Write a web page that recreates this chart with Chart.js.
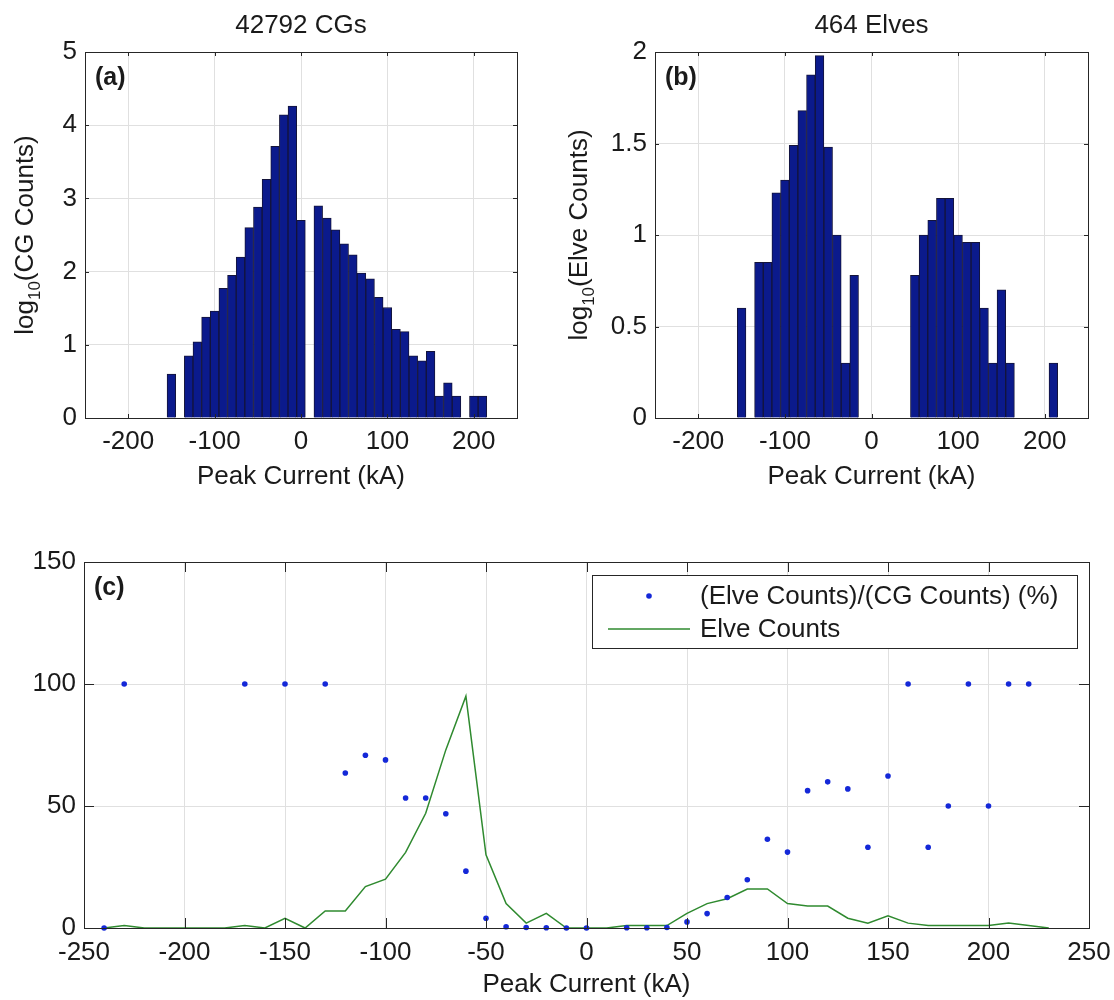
<!DOCTYPE html>
<html>
<head>
<meta charset="utf-8">
<script src="https://cdn.jsdelivr.net/npm/chart.js@4/dist/chart.umd.min.js"></script>
<style>
  body { margin: 0; background: #fff; }
  #wrap { position: relative; width: 1114px; height: 1000px; }
  canvas { position: absolute; }
</style>
</head>
<body>
<div id="wrap">
  <canvas id="chartA" width="545" height="500" style="left:0;top:0"></canvas>
  <canvas id="chartB" width="557" height="500" style="left:557px;top:0"></canvas>
  <canvas id="chartC" width="1114" height="500" style="left:0;top:500px"></canvas>
</div>
<script>
// histogram bin centres (kA), shared by panels (a) and (b)
const binCenters = [-150, -140, -130, -120, -110, -100, -90, -80, -70, -60, -50, -40, -30, -20, -10,
  0, 10, 20, 30, 40, 50, 60, 70, 80, 90, 100, 110, 120, 130, 140, 150, 160, 170, 180, 190, 200, 210];

// (a) log10(CG counts)
const cgLog = [0.60, null, 0.85, 1.04, 1.38, 1.46, 1.77, 1.95, 2.20, 2.60, 2.88, 3.26, 3.71, 4.14, 4.26,
  2.70, null, 2.90, 2.73, 2.57, 2.38, 2.23, 1.98, 1.90, 1.65, 1.51, 1.21, 1.18, 0.85, 0.78, 0.91, 0.30, 0.48, 0.30, null, 0.30, 0.30];

// (b) log10(Elve counts)
const elveLog = [0.60, null, 0.85, 0.85, 1.23, 1.30, 1.49, 1.68, 1.875, 1.98, 1.48, 1.00, 0.30, 0.78, null,
  null, null, null, null, null, 0.78, 1.00, 1.08, 1.20, 1.20, 1.00, 0.96, 0.96, 0.60, 0.30, 0.70, 0.30, null, null, null, null, 0.30];

// (c) ratio points (%)
const ratioX = [-240, -230, -170, -150, -130, -120, -110, -100, -90, -80, -70, -60, -50, -40, -30, -20, -10, 0,
  20, 30, 40, 50, 60, 70, 80, 90, 100, 110, 120, 130, 140, 150, 160, 170, 180, 190, 200, 210, 220];
const ratioY = [0, 100, 100, 100, 100, 63.5, 70.8, 68.9, 53.3, 53.3, 46.8, 23.3, 4.0, 0.5, 0.2, 0.1, 0, 0,
  0.1, 0.1, 0.2, 2.5, 5.9, 12.5, 19.8, 36.4, 31.1, 56.3, 59.9, 57, 33.1, 62.3, 100, 33.1, 50, 100, 50, 100, 100];

// (c) elve counts line
const countX = [-240, -230, -220, -210, -200, -190, -180, -170, -160, -150, -140, -130, -120, -110, -100, -90,
  -80, -70, -60, -50, -40, -30, -20, -10, 0, 10, 20, 30, 40, 50, 60, 70, 80, 90, 100, 110, 120, 130, 140, 150,
  160, 170, 180, 190, 200, 210, 220, 230];
const countY = [0, 1, 0, 0, 0, 0, 0, 1, 0, 4, 0, 7, 7, 17, 20, 31,
  47, 73, 95, 30, 10, 2, 6, 0, 0, 0, 1, 1, 1, 6, 10, 12, 16, 16, 10, 9, 9, 4, 2, 5,
  2, 1, 1, 1, 1, 2, 1, 0];

const histTicks = [-200, -100, 0, 100, 200];
const wideTicks = [-250, -200, -150, -100, -50, 0, 50, 100, 150, 200, 250];

const FONT = "'Liberation Sans', Arial, sans-serif";
Chart.defaults.font.family = FONT;
Chart.defaults.font.size = 26;
Chart.defaults.color = '#1a1a1a';

function drawYLabel(ctx, sub, rest, x, cy) {
  ctx.save();
  ctx.translate(x, cy);
  ctx.rotate(-Math.PI / 2);
  ctx.textAlign = 'left';
  ctx.textBaseline = 'alphabetic';
  const big = '26px ' + FONT, small = '17px ' + FONT;
  ctx.font = big;
  const w1 = ctx.measureText('log').width;
  const w3 = ctx.measureText(rest).width;
  ctx.font = small;
  const w2 = ctx.measureText(sub).width;
  let x0 = -(w1 + w2 + w3) / 2;
  ctx.font = big; ctx.fillText('log', x0, 0);
  ctx.font = small; ctx.fillText(sub, x0 + w1, 7);
  ctx.font = big; ctx.fillText(rest, x0 + w1 + w2, 0);
  ctx.restore();
}

// MATLAB-like box, inward ticks, titles and labels
function frame(o) {
  return {
    id: 'frame',
    afterDatasetsDraw(chart) {
      const { ctx, chartArea: a, scales } = chart;
      ctx.save();
      ctx.strokeStyle = '#262626';
      ctx.lineWidth = 1;
      ctx.beginPath();
      scales.x.ticks.forEach(t => {
        const px = Math.round(scales.x.getPixelForValue(t.value)) + 0.5;
        ctx.moveTo(px, a.bottom); ctx.lineTo(px, a.bottom - o.tick);
        ctx.moveTo(px, a.top); ctx.lineTo(px, a.top + o.tick);
      });
      scales.y.ticks.forEach(t => {
        const py = Math.round(scales.y.getPixelForValue(t.value)) + 0.5;
        ctx.moveTo(a.left, py); ctx.lineTo(a.left + o.tick, py);
        ctx.moveTo(a.right, py); ctx.lineTo(a.right - o.tick, py);
      });
      ctx.stroke();
      ctx.strokeRect(Math.round(a.left) + 0.5, Math.round(a.top) + 0.5, Math.round(a.width), Math.round(a.height));

      ctx.fillStyle = '#1a1a1a';
      ctx.textBaseline = 'alphabetic';
      ctx.textAlign = 'left';
      ctx.font = 'bold 25px ' + FONT;
      ctx.fillText(o.letter, a.left + 10, a.top + 33);

      ctx.textAlign = 'center';
      ctx.font = '26px ' + FONT;
      const cx = (a.left + a.right) / 2;
      if (o.title) ctx.fillText(o.title, cx, a.top - 19);
      ctx.fillText('Peak Current (kA)', cx, a.bottom + o.xLabelGap);
      if (o.yRest) drawYLabel(ctx, '10', o.yRest, a.left - o.yLabelGap, (a.top + a.bottom) / 2);

      if (o.legend) {
        const lx = 592, ly = 75, lw = 485, lh = 73;
        ctx.fillStyle = '#fff';
        ctx.fillRect(lx, ly, lw, lh);
        ctx.strokeRect(lx + 0.5, ly + 0.5, lw, lh);
        ctx.fillStyle = '#1428d8';
        ctx.beginPath();
        ctx.arc(lx + 57, ly + 21, 2.8, 0, Math.PI * 2);
        ctx.fill();
        ctx.strokeStyle = '#2f8a2f';
        ctx.lineWidth = 1.5;
        ctx.beginPath();
        ctx.moveTo(lx + 16, ly + 54); ctx.lineTo(lx + 98, ly + 54);
        ctx.stroke();
        ctx.fillStyle = '#1a1a1a';
        ctx.textAlign = 'left';
        ctx.textBaseline = 'middle';
        ctx.fillText('(Elve Counts)/(CG Counts) (%)', lx + 108, ly + 22);
        ctx.fillText('Elve Counts', lx + 108, ly + 55);
      }
      ctx.restore();
    }
  };
}

function axes(o) {
  return {
    x: {
      type: 'linear', min: -250, max: 250, offset: false,
      afterBuildTicks: s => { s.ticks = o.xTicks.map(v => ({ value: v })); },
      afterFit: s => { s.height = o.xHeight; s.paddingLeft = 0; s.paddingRight = 0; },
      grid: { color: '#e0e0e0', drawTicks: false, offset: false },
      border: { display: false },
      ticks: { padding: o.xPad, maxRotation: 0, autoSkip: false }
    },
    y: {
      min: 0, max: o.yMax,
      afterBuildTicks: s => { s.ticks = o.yTicks.map(v => ({ value: v })); },
      afterFit: s => { s.width = o.yWidth; s.paddingTop = 0; s.paddingBottom = 0; },
      grid: { color: '#e0e0e0', drawTicks: false },
      border: { display: false },
      ticks: { padding: 8, callback: v => String(v) }
    }
  };
}

function histDataset(values) {
  return {
    data: binCenters.map((x, i) => ({ x: x, y: values[i] })),
    backgroundColor: '#0b1a8c',
    borderColor: '#14143a',
    borderWidth: 1,
    barPercentage: 1,
    categoryPercentage: 1
  };
}

new Chart(document.getElementById('chartA'), {
  type: 'bar',
  data: { datasets: [histDataset(cgLog)] },
  options: {
    responsive: false, animation: false, devicePixelRatio: 1,
    layout: { padding: { top: 52, right: 28, bottom: 0, left: 0 } },
    plugins: { legend: { display: false }, tooltip: { enabled: false } },
    scales: axes({ xTicks: histTicks, yTicks: [0, 1, 2, 3, 4, 5], yMax: 5, xHeight: 82, yWidth: 85, xPad: 8 })
  },
  plugins: [frame({ tick: 4, letter: '(a)', title: '42792 CGs', yRest: '(CG Counts)', yLabelGap: 52, xLabelGap: 66 })]
});

new Chart(document.getElementById('chartB'), {
  type: 'bar',
  data: { datasets: [histDataset(elveLog)] },
  options: {
    responsive: false, animation: false, devicePixelRatio: 1,
    layout: { padding: { top: 52, right: 26, bottom: 0, left: 0 } },
    plugins: { legend: { display: false }, tooltip: { enabled: false } },
    scales: axes({ xTicks: histTicks, yTicks: [0, 0.5, 1, 1.5, 2], yMax: 2, xHeight: 82, yWidth: 98, xPad: 8 })
  },
  plugins: [frame({ tick: 4, letter: '(b)', title: '464 Elves', yRest: '(Elve Counts)', yLabelGap: 68, xLabelGap: 66 })]
});

new Chart(document.getElementById('chartC'), {
  type: 'scatter',
  data: {
    datasets: [
      {
        label: '(Elve Counts)/(CG Counts) (%)',
        data: ratioX.map((x, i) => ({ x: x, y: ratioY[i] })),
        pointRadius: 2.8, pointBorderWidth: 0,
        pointBackgroundColor: '#1428d8', showLine: false, clip: false
      },
      {
        label: 'Elve Counts',
        data: countX.map((x, i) => ({ x: x, y: countY[i] })),
        showLine: true, pointRadius: 0, borderColor: '#2f8a2f', borderWidth: 1.5, clip: false
      }
    ]
  },
  options: {
    responsive: false, animation: false, devicePixelRatio: 1,
    layout: { padding: { top: 62, right: 25, bottom: 0, left: 0 } },
    plugins: { legend: { display: false }, tooltip: { enabled: false } },
    scales: axes({ xTicks: wideTicks, yTicks: [0, 50, 100, 150], yMax: 150, xHeight: 72, yWidth: 84, xPad: 9 })
  },
  plugins: [frame({ tick: 10, letter: '(c)', xLabelGap: 64, legend: true })]
});
</script>
</body>
</html>
